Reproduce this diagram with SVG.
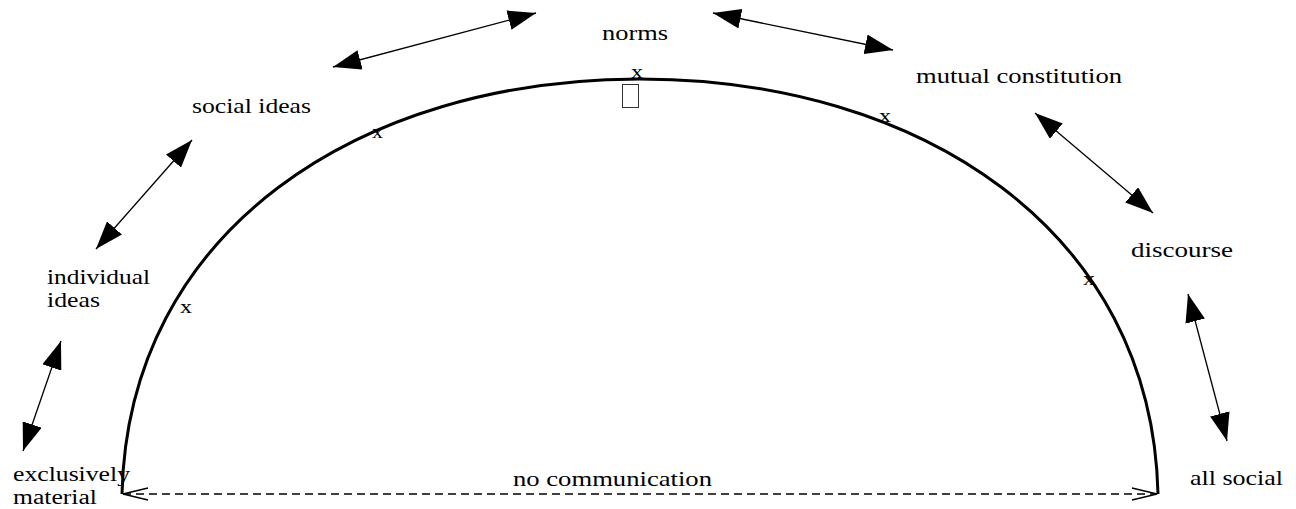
<svg xmlns="http://www.w3.org/2000/svg" width="1296" height="509" viewBox="0 0 1296 509">
<style>
text{font-family:"Liberation Serif","Times New Roman",serif;font-size:21px;fill:#000}
.x{font-size:19px}
.sm{font-size:20px}
.arc{fill:none;stroke:#000;stroke-width:3}
.bi{stroke:#000;stroke-width:1.3;fill:none;marker-start:url(#ah);marker-end:url(#ah)}
.dash{stroke:#000;stroke-width:1.3;fill:none;stroke-dasharray:8 5;marker-start:url(#oh);marker-end:url(#oh)}
</style>
<defs>
<marker id="ah" markerUnits="userSpaceOnUse" viewBox="0 0 28 20" refX="28" refY="10" markerWidth="28" markerHeight="20" orient="auto-start-reverse">
<path d="M0,0 L28,10 L0,20 Z" fill="#000"/>
</marker>
<marker id="oh" markerUnits="userSpaceOnUse" viewBox="0 0 28 14" refX="26" refY="7" markerWidth="28" markerHeight="14" orient="auto-start-reverse">
<path d="M1,1 L26,7 L1,13" fill="none" stroke="#000" stroke-width="1.5"/>
</marker>
</defs>
<g id="arc">
<path class="arc" d="M122,494 C128,230 360,79 640,79 C920,79 1152,230 1158,494"/>
</g>
<g id="connectors">
<line class="bi" x1="23" y1="451" x2="61" y2="341"/>
<line class="bi" x1="96" y1="249" x2="192" y2="140"/>
<line class="bi" x1="333" y1="67" x2="536" y2="13"/>
<line class="bi" x1="713" y1="13" x2="893" y2="50"/>
<line class="bi" x1="1035" y1="113" x2="1153" y2="213"/>
<line class="bi" x1="1188" y1="294" x2="1227" y2="441"/>
<line class="dash" x1="123" y1="494" x2="1157" y2="494"/>
</g>
<g id="norms"><text x="602" y="40" textLength="66" lengthAdjust="spacingAndGlyphs">norms</text></g>
<g id="mark-top"><text class="x" x="631" y="78" textLength="12" lengthAdjust="spacingAndGlyphs">x</text>
<rect x="622.5" y="84.5" width="16" height="23" fill="none" stroke="#333" stroke-width="1"/></g>
<g id="social-ideas"><text x="192" y="113" textLength="119" lengthAdjust="spacingAndGlyphs">social ideas</text></g>
<g id="mark-social"><text class="x" x="372" y="138" textLength="11" lengthAdjust="spacingAndGlyphs">x</text></g>
<g id="mutual-constitution"><text x="916" y="83" textLength="206" lengthAdjust="spacingAndGlyphs">mutual constitution</text></g>
<g id="mark-mutual"><text class="x" x="879" y="122" textLength="12" lengthAdjust="spacingAndGlyphs">x</text></g>
<g id="discourse"><text x="1131" y="257" textLength="102" lengthAdjust="spacingAndGlyphs">discourse</text></g>
<g id="mark-discourse"><text class="x" x="1083" y="285" textLength="12" lengthAdjust="spacingAndGlyphs">x</text></g>
<g id="individual-ideas"><text x="47" y="284" textLength="103" lengthAdjust="spacingAndGlyphs">individual</text>
<text x="47" y="307" textLength="53" lengthAdjust="spacingAndGlyphs">ideas</text></g>
<g id="mark-individual"><text class="x" x="180" y="313" textLength="12" lengthAdjust="spacingAndGlyphs">x</text></g>
<g id="exclusively-material"><text class="sm" x="13" y="481" textLength="117" lengthAdjust="spacingAndGlyphs">exclusively</text>
<text class="sm" x="13" y="504" textLength="84" lengthAdjust="spacingAndGlyphs">material</text></g>
<g id="all-social"><text x="1190" y="485" textLength="93" lengthAdjust="spacingAndGlyphs">all social</text></g>
<g id="no-communication"><text x="513" y="486" textLength="199" lengthAdjust="spacingAndGlyphs">no communication</text></g>
</svg>
